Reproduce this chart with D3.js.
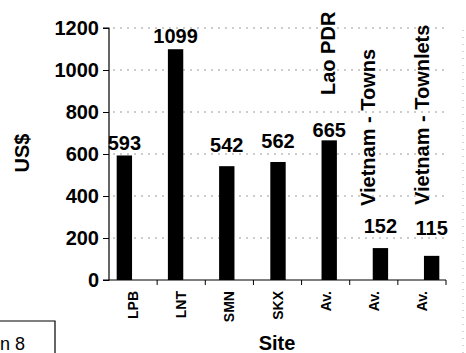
<!DOCTYPE html>
<html>
<head>
<meta charset="utf-8">
<script src="https://cdn.jsdelivr.net/npm/d3@7"></script>
<style>
  html, body { margin: 0; padding: 0; background: #fff; }
  svg { display: block; }
  text { font-family: "Liberation Sans", Arial, sans-serif; }
</style>
</head>
<body>
<svg id="chart" width="466" height="353"></svg>
<script>
// ---- data ----
const categories = ["LPB", "LNT", "SMN", "SKX", "Av.", "Av.", "Av."];
const values = [593, 1099, 542, 562, 665, 152, 115];
const groupLabels = ["Lao PDR", "Vietnam - Towns", "Vietnam - Townlets"];
const groupIndex = [4, 5, 6];
const yTicks = [0, 200, 400, 600, 800, 1000, 1200];
const yTitle = "US$";
const xTitle = "Site";
const cornerText = "n 8";

// ---- drawing ----
const svg = d3.select("#chart");
const W = 466, H = 353;
const axisLeft = 109, axisRight = 446, yTop = 28, yBottom = 280;

// bar positions (scanned original is slightly uneven; fitted band scale)
const x = d3.scaleBand()
  .domain(d3.range(categories.length))
  .range([axisLeft, axisRight + 1])
  .paddingInner(0.7)
  .paddingOuter(0.15);

// category axis slots (ticks and category labels)
const xCat = d3.scaleBand()
  .domain(d3.range(categories.length))
  .range([axisLeft, axisRight]);

const y = d3.scaleLinear().domain([0, 1200]).range([yBottom, yTop]);

// gridlines (dotted, faint as in scan)
svg.append("g").selectAll("line")
  .data(yTicks.filter(d => d > 0))
  .join("line")
  .attr("x1", axisLeft + 4).attr("x2", axisRight)
  .attr("y1", d => y(d)).attr("y2", d => y(d))
  .attr("stroke", "#9a9a9a")
  .attr("stroke-width", 1)
  .attr("stroke-dasharray", "2,5");

// y axis
const yAxis = d3.axisLeft(y).tickValues(yTicks).tickSize(6).tickPadding(4).tickFormat(d3.format("d"));
const gy = svg.append("g").attr("transform", `translate(${axisLeft},0)`).call(yAxis);
gy.select(".domain").attr("stroke", "#000").attr("stroke-width", 1.2).attr("d", `M-6,${yTop}H0V${yBottom}H-6`);
gy.selectAll(".tick line").attr("stroke", "#000");
gy.selectAll(".tick text")
  .attr("font-size", 20).attr("font-weight", "bold").attr("fill", "#000")
  .attr("font-family", "'Liberation Sans', Arial, sans-serif");

// x axis line + ticks at category boundaries
svg.append("line")
  .attr("x1", axisLeft).attr("x2", axisRight)
  .attr("y1", yBottom).attr("y2", yBottom)
  .attr("stroke", "#000").attr("stroke-width", 1.2);
svg.append("g").selectAll("line")
  .data(d3.range(categories.length)).join("line")
  .attr("x1", i => xCat(i) + xCat.bandwidth()).attr("x2", i => xCat(i) + xCat.bandwidth())
  .attr("y1", yBottom).attr("y2", yBottom + 5)
  .attr("stroke", "#000");

// bars
svg.append("g").selectAll("rect")
  .data(values).join("rect")
  .attr("x", (d, i) => x(i))
  .attr("width", x.bandwidth())
  .attr("y", d => y(d))
  .attr("height", d => y(0) - y(d))
  .attr("fill", "#000");

// value labels
const labelGap = [5, 6, 14, 14, 3, 15, 21];
svg.append("g").selectAll("text")
  .data(values).join("text")
  .attr("x", (d, i) => x(i) + x.bandwidth() / 2)
  .attr("y", (d, i) => y(d) - labelGap[i])
  .attr("text-anchor", "middle")
  .attr("font-size", 20).attr("font-weight", "bold")
  .text(d => d);

// group labels (rotated)
const groupDx = [6, -5, -3];
const groupBottom = [95, 206, 205];
svg.append("g").selectAll("text")
  .data(groupLabels).join("text")
  .attr("transform", (d, k) => {
    const cx = x(groupIndex[k]) + x.bandwidth() / 2 + groupDx[k];
    return `translate(${cx},${groupBottom[k]}) rotate(-90)`;
  })
  .attr("text-anchor", "start")
  .attr("font-size", 20).attr("font-weight", "bold")
  .text(d => d);

// category tick labels (rotated)
svg.append("g").selectAll("text")
  .data(categories).join("text")
  .attr("transform", (d, i) => `translate(${xCat(i) + xCat.bandwidth() / 2 + 5},${yBottom + 11}) rotate(-90)`)
  .attr("text-anchor", "end")
  .attr("font-size", 14).attr("font-weight", "bold")
  .text(d => d);

// axis titles
svg.append("text")
  .attr("transform", `translate(29,153) rotate(-90)`)
  .attr("text-anchor", "middle")
  .attr("font-size", 20).attr("font-weight", "bold")
  .text(yTitle);

svg.append("text")
  .attr("x", 277).attr("y", 350)
  .attr("text-anchor", "middle")
  .attr("font-size", 20).attr("font-weight", "bold")
  .text(xTitle);

// corner box fragment (bottom-left)
svg.append("path")
  .attr("d", `M0,321H55V${H}`)
  .attr("fill", "none").attr("stroke", "#000").attr("stroke-width", 1.2);
svg.append("text")
  .attr("x", 0).attr("y", 350)
  .attr("font-size", 18)
  .text(cornerText);

// faint dotted scan edge on the right
svg.append("line")
  .attr("x1", 463).attr("x2", 463).attr("y1", 30).attr("y2", H)
  .attr("stroke", "#aaa").attr("stroke-dasharray", "1,6");
</script>
</body>
</html>
